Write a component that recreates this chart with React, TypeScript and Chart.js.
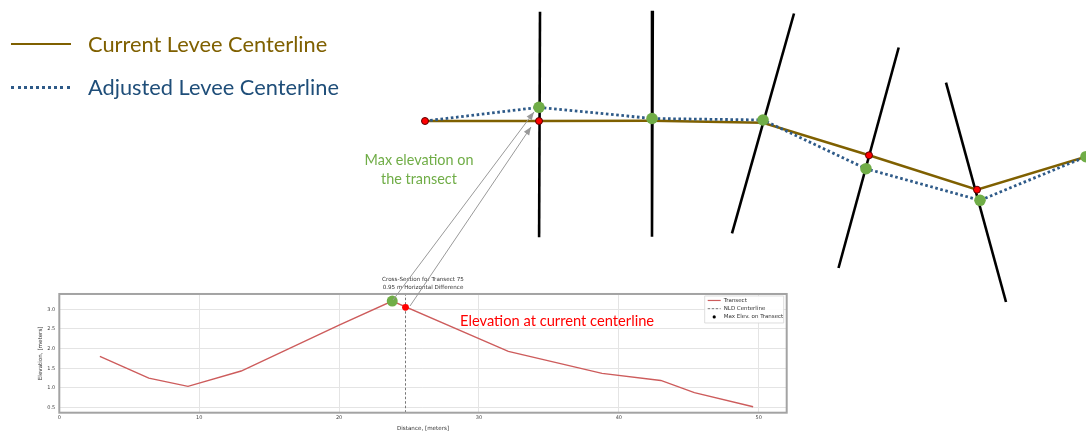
import { useEffect, useRef } from "react";
import { Chart, registerables } from "chart.js";

Chart.register(...registerables);

// ---- plan view (map units, origin top-left of the figure) ----
const currentX = [425, 539, 652, 763, 869, 977, 1086];
const currentY = [121, 121, 120.7, 122.7, 155.3, 189.7, 156.7];
const adjustedX = [425, 539, 652, 763, 866, 980, 1086];
const adjustedY = [121, 107.3, 118.5, 120, 168.7, 200.3, 156.7];
const redNodeIndex = [0, 1, 4, 5];

const transectTopX = [540, 652.8, 794, 898.7, 946];
const transectTopY = [11.7, 10.7, 13.5, 47.5, 82.7];
const transectBottomX = [539.1, 652, 732, 838.5, 1006];
const transectBottomY = [237.3, 236.7, 233.3, 268, 302];

const arrowFromX = [393, 410];
const arrowFromY = [300, 306];
const arrowToX = [534, 531];
const arrowToY = [112, 127];

// ---- cross-section for transect 75 ----
const distance = [2.9, 6.4, 9.2, 13.0, 20.0, 23.8, 32.1, 38.8, 43.0, 45.4, 49.6];
const elevation = [1.8, 1.25, 1.04, 1.43, 2.6, 3.21, 1.93, 1.37, 1.19, 0.88, 0.52];
const nldDistance = 24.75;
const nldElevation = 3.05;
const maxElevDistance = 23.8;
const maxElevation = 3.21;
const xMin = 0;
const xMax = 52;
const yMin = 0.37;
const yMax = 3.39;
const xTickValues = [0, 10, 20, 30, 40, 50];
const yTickValues = [0.5, 1.0, 1.5, 2.0, 2.5, 3.0];
const legendLabels = ["Transect", "NLD Centerline", "Max Elev. on Transect"];
const titleLines = ["Cross-Section for Transect 75", "0.95 m Horizontal Difference"];

const MPL_FONT = "'DejaVu Sans', sans-serif";
const PPT_FONT = "Lato, 'Open Sans', sans-serif";

const toPoints = (xs: number[], ys: number[]) => xs.map((x, i) => ({ x, y: ys[i] }));

const arrowHeads = {
  id: "arrowHeads",
  afterDatasetsDraw(chart: any) {
    const ctx = chart.ctx;
    chart.data.datasets.forEach((ds: any, i: number) => {
      if (!ds.arrow) return;
      const pts = chart.getDatasetMeta(i).data;
      const a = pts[pts.length - 2];
      const b = pts[pts.length - 1];
      const ang = Math.atan2(b.y - a.y, b.x - a.x);
      const len = 8;
      const half = 3.2;
      const c = Math.cos(ang);
      const s = Math.sin(ang);
      ctx.save();
      ctx.fillStyle = ds.borderColor;
      ctx.beginPath();
      ctx.moveTo(b.x, b.y);
      ctx.lineTo(b.x - len * c - half * s, b.y - len * s + half * c);
      ctx.lineTo(b.x - len * c + half * s, b.y - len * s - half * c);
      ctx.closePath();
      ctx.fill();
      ctx.restore();
    });
  },
};

const plotFrame = {
  id: "plotFrame",
  afterDatasetsDraw(chart: any) {
    const { ctx, chartArea } = chart;
    ctx.save();
    ctx.strokeStyle = "#a3a3a3";
    ctx.lineWidth = 2;
    ctx.strokeRect(chartArea.left, chartArea.top, chartArea.right - chartArea.left, chartArea.bottom - chartArea.top);
    ctx.restore();
  },
};

const mplLegend = {
  id: "mplLegend",
  afterDraw(chart: any) {
    const { ctx, chartArea } = chart;
    const w = 79;
    const h = 27;
    const x0 = chartArea.right - w - 3;
    const y0 = chartArea.top + 2;
    ctx.save();
    ctx.fillStyle = "rgba(255,255,255,0.9)";
    ctx.strokeStyle = "#d4d4d4";
    ctx.lineWidth = 0.8;
    ctx.beginPath();
    ctx.rect(x0, y0, w, h);
    ctx.fill();
    ctx.stroke();
    ctx.font = `5.5px ${MPL_FONT}`;
    ctx.textBaseline = "middle";
    legendLabels.forEach((label, i) => {
      const y = y0 + 4.5 + i * 8.2;
      ctx.save();
      if (i === 0) {
        ctx.strokeStyle = "#cd5c5c";
        ctx.lineWidth = 1.2;
        ctx.beginPath();
        ctx.moveTo(x0 + 3, y);
        ctx.lineTo(x0 + 16, y);
        ctx.stroke();
      } else if (i === 1) {
        ctx.strokeStyle = "#777";
        ctx.lineWidth = 1;
        ctx.setLineDash([2.5, 1.5]);
        ctx.beginPath();
        ctx.moveTo(x0 + 3, y);
        ctx.lineTo(x0 + 16, y);
        ctx.stroke();
      } else {
        ctx.fillStyle = "#000";
        ctx.beginPath();
        ctx.arc(x0 + 9.5, y, 1.6, 0, Math.PI * 2);
        ctx.fill();
      }
      ctx.restore();
      ctx.fillStyle = "#333";
      ctx.fillText(label, x0 + 19, y);
    });
    ctx.restore();
  },
};

export default function App() {
  const mapRef = useRef<HTMLCanvasElement>(null);
  const secRef = useRef<HTMLCanvasElement>(null);

  useEffect(() => {
    if (!mapRef.current || !secRef.current) return;

    const currentPts = toPoints(currentX, currentY);
    const adjustedPts = toPoints(adjustedX, adjustedY);

    const transectSets = transectTopX.map((_, i) => ({
      data: [
        { x: transectTopX[i], y: transectTopY[i] },
        { x: transectBottomX[i], y: transectBottomY[i] },
      ],
      showLine: true,
      borderColor: "#000",
      borderWidth: 2.6,
      pointRadius: 0,
    }));

    const arrowSets = arrowFromX.map((_, i) => ({
      data: [
        { x: arrowFromX[i], y: arrowFromY[i] },
        { x: arrowToX[i], y: arrowToY[i] },
      ],
      showLine: true,
      arrow: true,
      borderColor: "#999",
      borderWidth: 1,
      pointRadius: 0,
    }));

    const mapChart = new Chart(mapRef.current, {
      type: "scatter",
      data: {
        datasets: [
          ...arrowSets,
          {
            data: adjustedPts.slice(1),
            pointRadius: 5.8,
            pointBackgroundColor: "#70ad47",
            pointBorderWidth: 0,
            showLine: false,
          },
          {
            data: redNodeIndex.map((i) => currentPts[i]),
            pointRadius: 3.5,
            pointBackgroundColor: "#ff0000",
            pointBorderColor: "#5a0000",
            pointBorderWidth: 1,
            showLine: false,
          },
          {
            data: adjustedPts,
            showLine: true,
            borderColor: "#2e5a88",
            borderWidth: 2.8,
            borderDash: [2.6, 2.6],
            pointRadius: 0,
          },
          {
            data: currentPts,
            showLine: true,
            borderColor: "#7f6000",
            borderWidth: 2.5,
            pointRadius: 0,
          },
          ...transectSets,
        ] as any,
      },
      options: {
        animation: false,
        responsive: true,
        maintainAspectRatio: false,
        events: [],
        layout: { padding: 0, autoPadding: false },
        plugins: { legend: { display: false }, tooltip: { enabled: false } },
        scales: {
          x: { type: "linear", min: 0, max: 1086, display: false },
          y: { type: "linear", min: 0, max: 432, reverse: true, display: false },
        },
      },
      plugins: [arrowHeads],
    });

    const secChart = new Chart(secRef.current, {
      type: "scatter",
      data: {
        datasets: [
          {
            data: [{ x: maxElevDistance, y: maxElevation }],
            pointRadius: 5.5,
            pointBackgroundColor: "#70ad47",
            pointBorderWidth: 0,
          },
          {
            data: [{ x: nldDistance, y: nldElevation }],
            pointRadius: 3.4,
            pointBackgroundColor: "#ff0000",
            pointBorderWidth: 0,
          },
          {
            data: [
              { x: nldDistance, y: yMin },
              { x: nldDistance, y: yMax },
            ],
            showLine: true,
            borderColor: "#777",
            borderWidth: 1,
            borderDash: [2.5, 2],
            pointRadius: 0,
          },
          {
            data: toPoints(distance, elevation),
            showLine: true,
            borderColor: "#cd5c5c",
            borderWidth: 1.4,
            pointRadius: 0,
          },
        ],
      },
      options: {
        animation: false,
        responsive: true,
        maintainAspectRatio: false,
        events: [],
        layout: { padding: { left: 0, right: 29.3, top: 0, bottom: 0 }, autoPadding: false },
        plugins: {
          legend: { display: false },
          tooltip: { enabled: false },
          title: {
            display: true,
            fullSize: false,
            text: titleLines,
            color: "#333",
            font: { family: MPL_FONT, size: 5.6, weight: "normal", lineHeight: 1.48 },
            padding: { top: 3, bottom: 2.4 },
          },
        },
        scales: {
          x: {
            type: "linear",
            min: xMin,
            max: xMax,
            afterBuildTicks: (s: any) => {
              s.ticks = xTickValues.map((v) => ({ value: v }));
            },
            afterFit: (s: any) => {
              s.height = 19.3;
            },
            grid: { color: "#e4e4e4", drawTicks: false },
            border: { display: false },
            ticks: {
              padding: 2.5,
              color: "#444",
              font: { family: MPL_FONT, size: 5 },
              maxRotation: 0,
            },
            title: {
              display: true,
              text: "Distance, [meters]",
              color: "#333",
              font: { family: MPL_FONT, size: 5.6 },
              padding: 0,
            },
          },
          y: {
            type: "linear",
            min: yMin,
            max: yMax,
            afterBuildTicks: (s: any) => {
              s.ticks = yTickValues.map((v) => ({ value: v }));
            },
            afterFit: (s: any) => {
              s.width = 29.3;
            },
            grid: { color: "#e4e4e4", drawTicks: false },
            border: { display: false },
            ticks: {
              padding: 4,
              color: "#444",
              font: { family: MPL_FONT, size: 5 },
              callback: (v: any) => Number(v).toFixed(1),
            },
            title: {
              display: true,
              text: "Elevation, [meters]",
              color: "#333",
              font: { family: MPL_FONT, size: 5.6 },
              padding: { top: 7.3, bottom: 0 },
            },
          },
        },
      },
      plugins: [plotFrame, mplLegend],
    });

    return () => {
      mapChart.destroy();
      secChart.destroy();
    };
  }, []);

  const abs = (left: number, top: number, extra: any = {}) => ({
    position: "absolute" as const,
    left,
    top,
    whiteSpace: "nowrap" as const,
    ...extra,
  });

  return (
    <div
      style={{
        position: "absolute",
        left: 0,
        top: 0,
        width: 1086,
        height: 432,
        overflow: "hidden",
        background: "#fff",
      }}
    >
      {/* cross-section plot */}
      <div style={abs(30, 272, { width: 786, height: 160 })}>
        <canvas ref={secRef} />
      </div>

      {/* plan view with transects and arrows */}
      <div style={abs(0, 0, { width: 1086, height: 432 })}>
        <canvas ref={mapRef} />
      </div>

      {/* legend */}
      <div style={abs(11, 42.8, { width: 60, height: 0, borderTop: "2.5px solid #7f6000" })} />
      <div style={abs(88, 32.5, { fontFamily: PPT_FONT, fontSize: 21.8, lineHeight: "21.8px", color: "#7f6000" })}>
        Current Levee Centerline
      </div>
      <div style={abs(11, 85.5, { width: 59, height: 0, borderTop: "3px dotted #2e5a88" })} />
      <div style={abs(88, 75.8, { fontFamily: PPT_FONT, fontSize: 21.8, lineHeight: "21.8px", color: "#1f4e79" })}>
        Adjusted Levee Centerline
      </div>

      {/* annotations */}
      <div
        style={abs(349, 150, {
          width: 140,
          textAlign: "center",
          fontFamily: PPT_FONT,
          fontSize: 14.4,
          lineHeight: "19.4px",
          color: "#70ad47",
        })}
      >
        Max elevation on
        <br />
        the transect
      </div>
      <div style={abs(460, 312.5, { fontFamily: PPT_FONT, fontSize: 14.7, lineHeight: "15px", color: "#ff0000" })}>
        Elevation at current centerline
      </div>
    </div>
  );
}
